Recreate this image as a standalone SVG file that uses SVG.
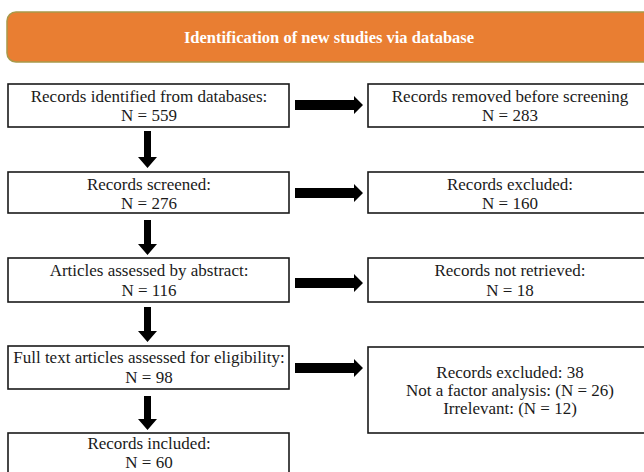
<svg xmlns="http://www.w3.org/2000/svg" width="644" height="472" viewBox="0 0 644 472">
<defs>
<style>
.box{fill:#fff;stroke:#1a1a1a;stroke-width:1.6}
.t{font-family:"Liberation Serif","Times New Roman",serif;font-size:17px;fill:#1a1a1a;text-anchor:middle}
.h{font-family:"Liberation Serif","Times New Roman",serif;font-size:16.5px;font-weight:bold;fill:#fff;text-anchor:middle}
.arr{fill:#000}
</style>
</defs>
<rect width="644" height="472" fill="#fff"/>
<g id="header">
<rect x="7" y="12" width="650" height="50" rx="9" fill="#E97E32" stroke="#A8994A" stroke-width="1.5"/>
<text class="h" x="329" y="43">Identification of new studies via database</text>
</g>
<g id="n1"><rect class="box" x="8" y="84" width="281" height="43"/><text class="t" x="149" y="102">Records identified from databases:</text><text class="t" x="149" y="121">N = 559</text></g>
<g id="n2"><rect class="box" x="8" y="172" width="281" height="41"/><text class="t" x="149" y="190">Records screened:</text><text class="t" x="149" y="209">N = 276</text></g>
<g id="n3"><rect class="box" x="8" y="258" width="281" height="44"/><text class="t" x="149" y="276">Articles assessed by abstract:</text><text class="t" x="149" y="296">N = 116</text></g>
<g id="n4"><rect class="box" x="8" y="346" width="281" height="43"/><text class="t" x="149" y="363">Full text articles assessed for eligibility:</text><text class="t" x="149" y="383">N = 98</text></g>
<g id="n5"><rect class="box" x="8" y="433" width="281" height="50"/><text class="t" x="149" y="449">Records included:</text><text class="t" x="149" y="468">N = 60</text></g>
<g id="r1"><rect class="box" x="368" y="84" width="290" height="43"/><text class="t" x="510" y="102">Records removed before screening</text><text class="t" x="510" y="121">N = 283</text></g>
<g id="r2"><rect class="box" x="368" y="172" width="290" height="41"/><text class="t" x="510" y="190">Records excluded:</text><text class="t" x="510" y="209">N = 160</text></g>
<g id="r3"><rect class="box" x="368" y="258" width="290" height="44"/><text class="t" x="510" y="276">Records not retrieved:</text><text class="t" x="510" y="296">N = 18</text></g>
<g id="r4"><rect class="box" x="368" y="347" width="290" height="86"/><text class="t" x="510" y="378">Records excluded: 38</text><text class="t" x="510" y="396">Not a factor analysis: (N = 26)</text><text class="t" x="510" y="414">Irrelevant: (N = 12)</text></g>
<g id="connectors">
<polygon class="arr" points="295,100 354,100 354,96 363,105 354,114 354,110 295,110"/>
<polygon class="arr" points="295,188 354,188 354,184 363,193 354,202 354,198 295,198"/>
<polygon class="arr" points="295,278 354,278 354,274 363,283 354,292 354,288 295,288"/>
<polygon class="arr" points="295,363 354,363 354,359 363,368 354,377 354,373 295,373"/>
<polygon class="arr" points="144,131 151,131 151,157 157,157 147.5,168 138,157 144,157"/>
<polygon class="arr" points="144,220 151,220 151,244 157,244 147.5,255 138,244 144,244"/>
<polygon class="arr" points="144,307 151,307 151,331 157,331 147.5,342 138,331 144,331"/>
<polygon class="arr" points="144,396 151,396 151,419 157,419 147.5,430 138,419 144,419"/>
</g>
</svg>
